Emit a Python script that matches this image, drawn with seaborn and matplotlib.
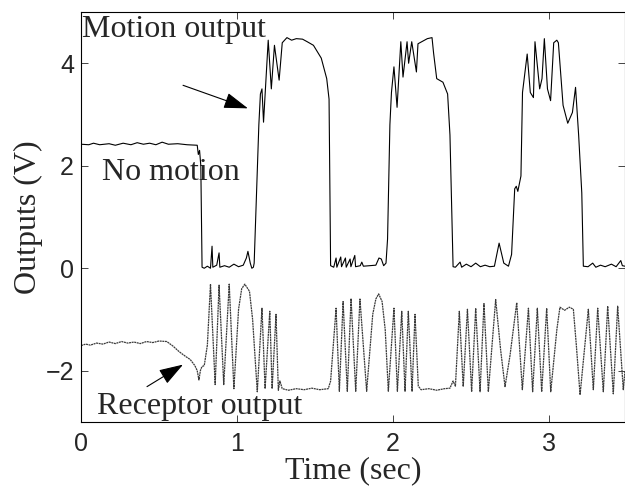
import pandas as pd
import matplotlib
matplotlib.use("Agg")
import matplotlib.pyplot as plt
import seaborn as sns

sns.set_style("ticks")

# motion output trace (time in sec, volts)
motion_t = [0.00, 0.05, 0.08, 0.12, 0.18, 0.22, 0.27, 0.32, 0.36, 0.40, 0.44, 0.48, 0.52, 0.56, 0.62, 0.68,
            0.745, 0.752, 0.76, 0.768, 0.776,
            0.79, 0.81, 0.83, 0.84, 0.845, 0.87, 0.885, 0.89, 0.92, 0.95, 0.98, 1.01, 1.04, 1.06, 1.07, 1.085,
            1.095, 1.105,
            1.11, 1.14, 1.15, 1.16, 1.17, 1.20, 1.22, 1.24, 1.27, 1.29, 1.32, 1.35, 1.38, 1.42, 1.45, 1.49,
            1.52, 1.54, 1.575, 1.59, 1.60,
            1.62, 1.635, 1.64, 1.665, 1.67, 1.695, 1.70, 1.725, 1.73, 1.755, 1.76, 1.79, 1.80, 1.81, 1.85,
            1.89, 1.91, 1.925, 1.94, 1.955,
            1.965, 1.98, 1.99, 2.006, 2.026, 2.05, 2.064, 2.09, 2.10, 2.12, 2.15, 2.16, 2.22, 2.25, 2.26,
            2.28, 2.32, 2.35, 2.365, 2.385,
            2.40, 2.43, 2.44, 2.47, 2.50, 2.53, 2.56, 2.59, 2.62, 2.65, 2.68, 2.71, 2.74, 2.76,
            2.78, 2.79, 2.80, 2.82, 2.83, 2.86, 2.88, 2.90, 2.91, 2.94, 2.955, 2.97, 2.99, 3.01, 3.03, 3.05,
            3.06, 3.09, 3.12, 3.15, 3.17, 3.19, 3.21, 3.22,
            3.25, 3.28, 3.30, 3.33, 3.36, 3.40, 3.43, 3.46, 3.47, 3.487]
motion_v = [2.42, 2.41, 2.44, 2.41, 2.43, 2.40, 2.44, 2.41, 2.45, 2.42, 2.44, 2.41, 2.46, 2.42, 2.43, 2.41,
            2.40, 2.22, 2.30, 2.00, 0.02,
            0.00, 0.04, 0.00, 0.43, 0.02, 0.06, 0.30, 0.02, 0.05, 0.02, 0.08, 0.03, 0.06, 0.20, 0.33, 0.10,
            0.00, 0.02,
            0.10, 2.80, 3.40, 3.50, 2.85, 4.45, 3.50, 4.35, 3.67, 4.40, 4.50, 4.45, 4.48, 4.47, 4.42, 4.35,
            4.20, 4.10, 3.70, 3.30, 0.05,
            0.02, 0.20, 0.02, 0.22, 0.03, 0.20, 0.02, 0.18, 0.03, 0.25, 0.03, 0.05, 0.12, 0.04, 0.05,
            0.06, 0.20, 0.18, 0.05, 0.10,
            0.57, 2.80, 3.43, 3.93, 3.14, 4.42, 3.73, 4.42, 4.00, 4.42, 3.83, 4.38, 4.48, 4.50, 4.20,
            3.70, 3.63, 3.40, 2.60, 0.03,
            0.02, 0.12, 0.02, 0.08, 0.03, 0.10, 0.03, 0.06, 0.03, 0.04, 0.49, 0.10, 0.04, 0.27,
            1.55, 1.60, 1.50, 1.80, 3.43, 4.18, 3.43, 3.33, 4.42, 3.50, 3.70, 4.48, 3.50, 3.27, 4.40, 4.45,
            4.40, 3.18, 2.83, 3.04, 3.53, 2.59, 1.47, 0.04,
            0.03, 0.10, 0.02, 0.06, 0.03, 0.08, 0.03, 0.15, 0.05, 0.04]

# receptor output trace
receptor_t = [0.00, 0.03, 0.06, 0.10, 0.14, 0.18, 0.22, 0.26, 0.30, 0.34, 0.38, 0.42, 0.46, 0.50, 0.55,
              0.59, 0.63, 0.67, 0.70, 0.73, 0.745, 0.756, 0.765, 0.775, 0.79, 0.80, 0.81,
              0.83, 0.86, 0.885, 0.915, 0.95, 0.98, 1.01, 1.03, 1.05, 1.08, 1.10, 1.13, 1.16, 1.18, 1.21,
              1.225, 1.25, 1.265, 1.275, 1.29, 1.33, 1.38, 1.43, 1.48, 1.53, 1.585, 1.60,
              1.635, 1.656, 1.68, 1.707, 1.731, 1.761, 1.788, 1.831, 1.87, 1.89, 1.908, 1.93, 1.95, 1.97,
              2.006, 2.028, 2.056, 2.077, 2.098, 2.122, 2.141, 2.162, 2.18, 2.23, 2.28, 2.33, 2.365, 2.385,
              2.40, 2.425, 2.45, 2.477, 2.504, 2.53, 2.558, 2.583, 2.611, 2.658, 2.69, 2.718, 2.75, 2.793,
              2.829, 2.868, 2.895, 2.925, 2.953, 2.985, 3.011, 3.05, 3.07, 3.10, 3.13, 3.156, 3.175, 3.199,
              3.252, 3.284, 3.312, 3.348, 3.376, 3.412, 3.44, 3.476, 3.487]
receptor_v = [-1.51, -1.48, -1.50, -1.46, -1.48, -1.44, -1.47, -1.43, -1.46, -1.44, -1.47, -1.43, -1.45,
              -1.42, -1.43, -1.52, -1.63, -1.72, -1.78, -1.90, -2.00, -2.18, -2.00, -1.92, -1.90, -1.70,
              -1.50,
              -0.31, -2.27, -0.33, -2.27, -0.31, -2.35, -0.80, -0.40, -0.31, -0.45, -1.00, -2.41, -0.78,
              -2.35, -0.84, -2.35, -0.90, -2.38, -2.20, -2.35, -2.38, -2.35, -2.37, -2.34, -2.37, -2.35,
              -2.20,
              -0.78, -2.40, -0.65, -2.40, -0.59, -2.40, -0.60, -2.40, -0.90, -0.60, -0.50, -0.65, -1.20,
              -2.40, -0.78, -2.40, -0.84, -2.40, -0.84, -2.40, -0.90, -2.30, -2.37, -2.35, -2.38, -2.35,
              -2.34, -2.20,
              -2.30, -0.84, -2.31, -0.80, -2.41, -0.78, -2.41, -0.69, -2.41, -0.61, -1.60, -2.31, -1.70,
              -0.67, -2.37, -0.78, -2.41, -0.78, -2.41, -0.78, -2.41, -1.20, -0.76, -0.82, -0.76, -0.80,
              -1.50, -2.47, -0.80, -2.37, -0.78, -2.41, -0.74, -2.45, -0.74, -2.37, -2.00]

df_motion = pd.DataFrame({"t": motion_t, "v": motion_v})
df_receptor = pd.DataFrame({"t": receptor_t, "v": receptor_v})

fig = plt.figure(figsize=(6.25, 4.86), dpi=100)
ax = fig.add_axes([81 / 625, 64 / 486, 544 / 625, 410 / 486])

sns.lineplot(data=df_motion, x="t", y="v", ax=ax, color="black", lw=0.8,
             sort=False, estimator=None)
sns.lineplot(data=df_receptor, x="t", y="v", ax=ax, color="#3a3a3a", lw=0.9,
             linestyle=(0, (1.6, 0.5)), sort=False, estimator=None)

ax.set_xlim(0, 3.487)
ax.set_ylim(-3, 5)
ax.set_xticks([0, 1, 2, 3])
ax.set_yticks([-2, 0, 2, 4])
ax.set_yticklabels(["\u22122", "0", "2", "4"])
ax.tick_params(direction="in", length=5, width=0.6, top=True, right=True,
               labelsize=18, pad=7)
ax.tick_params(axis="y", pad=5)
for lab in ax.get_xticklabels() + ax.get_yticklabels():
    lab.set_family("Liberation Sans")
for s in ax.spines.values():
    s.set_linewidth(0.8)
    s.set_color("black")

serif = "Liberation Serif"
ax.set_xlabel("Time (sec)", family=serif, fontsize=23, labelpad=0)
ax.set_ylabel("Outputs (V)", family=serif, fontsize=23, labelpad=2)

ax.text(0.005, 4.65, "Motion output", family=serif, fontsize=23, va="center", ha="left")
ax.text(0.135, 1.86, "No motion", family=serif, fontsize=23, va="center", ha="left")
ax.text(0.10, -2.69, "Receptor output", family=serif, fontsize=23, va="center", ha="left")

arrow = dict(arrowstyle="-|>,head_length=1.0,head_width=0.33", color="black", lw=0.8,
             mutation_scale=15, shrinkA=0, shrinkB=0)
ax.annotate("", xy=(1.07, 3.12), xytext=(0.654, 3.57), arrowprops=arrow)
ax.annotate("", xy=(0.654, -1.88), xytext=(0.423, -2.31), arrowprops=arrow)

fig.savefig("out.png", dpi=100)
